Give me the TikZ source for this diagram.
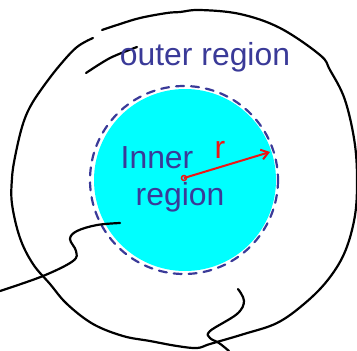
\documentclass[tikz,border=0pt]{standalone}
\usepackage{fontspec}
\setmainfont{Liberation Sans}
\usetikzlibrary{arrows.meta}
\definecolor{penblue}{RGB}{58,58,152}
\definecolor{penred}{RGB}{240,20,20}
\definecolor{brightcyan}{RGB}{0,255,255}

\begin{document}
\begin{tikzpicture}[x=1bp,y=-1bp,
  pen/.style={black,line width=2.2bp,line cap=round,line join=round},
  handtext/.style={inner sep=0pt,anchor=base,font=\fontsize{32}{32}\selectfont},
  boundary/.style={penblue,line width=2.2bp,line cap=round,dash pattern=on 8bp off 7bp}]
  \useasboundingbox (0,0) rectangle (357,351);

  % inner region
  \fill[brightcyan] (185,180) circle [radius=91];
  \draw[boundary] (184,180) circle [radius=94];

  % outer boundary, drawn in two strokes
  \draw[pen] plot[smooth,tension=0.6] coordinates {
    (93,38) (77,47) (60,65) (43,87) (30,107) (22,127) (15,157) (12,178)
    (12,204) (20,238) (33,264) (50,284) (67,304) (93,324) (123,336)
    (150,341) (177,346) (197,348) (210,344) (244,334) (277,323) (304,304)
    (327,281) (344,254) (354,221) (357,188) (355,145) (345,100) (330,70)
    (320,55) (280,28) (240,14) (200,10) (180,12) (167,13) (140,18)
    (117,25) (102,30)};
  \draw[pen] plot[smooth] coordinates {(86,73) (110,58) (137,47)};

  % cut lines
  \draw[pen] plot[smooth,tension=0.6] coordinates {
    (0,291) (43,276) (73,261) (76,251) (70,239) (77,231) (97,225) (120,223)};
  \draw[pen] plot[smooth,tension=0.6] coordinates {
    (238,289) (244,301) (237,314) (210,331) (210,338) (219,343) (229,351)};

  % labels
  \node[handtext,text=penblue] (outerlabel) at (205,65) {outer region};
  \node[handtext,text=penblue] (innerlabel) at (157,168) {Inner};
  \node[handtext,text=penblue] (regionlabel) at (180,205) {region};

  % radius
  \coordinate (centre) at (184,178);
  \coordinate (rim) at (270,152);
  \draw[penred,line width=1.5bp] (centre) circle [radius=2.5];
  \draw[penred,line width=2bp,-{Straight Barb[length=7bp,width=10bp]}] (centre) -- (rim);
  \node[handtext,text=penred] (rlabel) at (220,158) {r};
\end{tikzpicture}
\end{document}
